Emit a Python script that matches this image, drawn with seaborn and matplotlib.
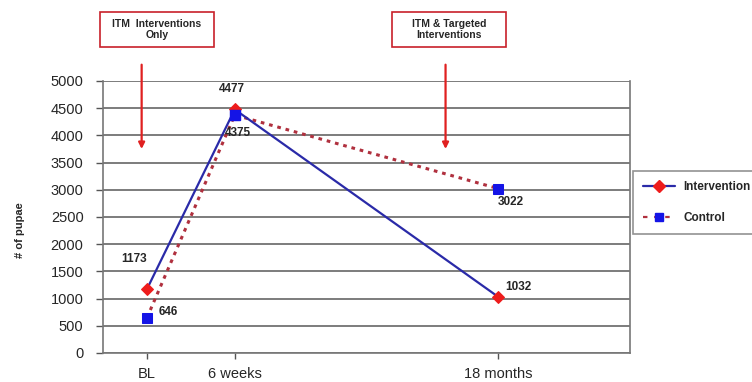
import matplotlib as mpl
import matplotlib.pyplot as plt
import pandas as pd
import seaborn as sns
from matplotlib.lines import Line2D
from matplotlib.patches import Rectangle

mpl.use('Agg')

# Data
TIMEPOINTS = ["BL", "6 weeks", "18 months"]
X_POS = [0.5, 1.5, 4.5]
INTERVENTION = [1173, 4477, 1032]
CONTROL = [646, 4375, 3022]
Y_TICKS = list(range(0, 5001, 500))

BLUE = "#2a2aa8"
RED = "#ee1c1c"
DOT_RED = "#b0303e"
SQ_BLUE = "#1414e6"

sns.set_style("white")
plt.rcParams['font.family'] = ['Liberation Sans', 'DejaVu Sans']

df = pd.DataFrame({"x": X_POS * 2,
                   "pupae": INTERVENTION + CONTROL,
                   "group": ["Intervention"] * 3 + ["Control"] * 3})

fig = plt.figure(figsize=(7.52, 3.82), dpi=100)
ax = fig.add_axes([103 / 752, 1 - 353 / 382, 527 / 752, 272 / 382])

# Lines
sns.lineplot(data=df[df["group"] == "Control"], x="x", y="pupae", ax=ax,
             color=DOT_RED, linestyle=(0, (1.2, 1.6)), linewidth=2.2,
             marker="s", markersize=6.5, markerfacecolor=SQ_BLUE,
             markeredgecolor=SQ_BLUE, zorder=3)
sns.lineplot(data=df[df["group"] == "Intervention"], x="x", y="pupae", ax=ax,
             color=BLUE, linewidth=1.6, marker="D", markersize=6,
             markerfacecolor=RED, markeredgecolor=RED, zorder=4)
ax.plot([X_POS[1]], [CONTROL[1]], marker="s", markersize=6.5, color=SQ_BLUE,
        linestyle="none", zorder=5)

# Axes styling
ax.set_xlim(0, 6)
ax.set_ylim(0, 5000)
ax.set_yticks(Y_TICKS)
ax.set_xticks(X_POS)
ax.set_xticklabels(TIMEPOINTS, fontsize=10.5)
ax.tick_params(axis="y", labelsize=10.5, length=5, width=1, color="#555555",
               pad=9, direction="out", left=True)
ax.tick_params(axis="x", length=4.3, width=1, color="#555555", pad=5.5,
               direction="out", bottom=True)
ax.set_xlabel("")
ax.set_ylabel("# of pupae", fontsize=8, fontweight="bold")
ax.yaxis.set_label_coords(-0.148, 0.45)
ax.yaxis.grid(True, color="#666666", linewidth=1.2)
ax.xaxis.grid(False)
for side in ["left", "right", "bottom"]:
    ax.spines[side].set_visible(True)
    ax.spines[side].set_color("#777777")
    ax.spines[side].set_linewidth(1.2)
ax.spines["top"].set_visible(False)

# Value labels
labels = [(0.353, 1728, "1173"), (1.469, 4853, "4477"), (1.537, 4044, "4375"),
          (0.74, 754, "646"), (4.645, 2775, "3022"), (4.725, 1213, "1032")]
for x, y, t in labels:
    ax.text(x, y, t, fontsize=8.5, fontweight="bold", ha="center", va="center",
            zorder=6)

# Intervention arrows
for xa in [0.44, 3.9]:
    ax.annotate("", xy=(xa, 3750), xytext=(xa, 5300), xycoords="data",
                annotation_clip=False,
                arrowprops=dict(arrowstyle="-|>", color="#e02020", lw=1.6,
                                mutation_scale=9, shrinkA=0, shrinkB=0))

# Boxes above the chart
for x0, x1, txt in [(100, 214, "ITM  Interventions\nOnly"),
                    (392, 506, "ITM & Targeted\nInterventions")]:
    fig.patches.append(Rectangle((x0 / 752, 1 - 47 / 382), (x1 - x0) / 752,
                                 35 / 382, transform=fig.transFigure,
                                 fill=False, edgecolor="#c8202a", linewidth=1.2))
    fig.text((x0 + x1) / 2 / 752, 1 - 29.5 / 382, txt, ha="center",
             va="center", fontsize=7.5, fontweight="bold", linespacing=1.15)

# Legend
handles = [Line2D([], [], color=BLUE, linewidth=1.6, marker="D", markersize=6.5,
                  markerfacecolor=RED, markeredgecolor=RED),
           Line2D([], [], color=DOT_RED, linewidth=1.6, linestyle=(0, (2, 3)),
                  marker="s", markersize=5.5, markerfacecolor=SQ_BLUE,
                  markeredgecolor=SQ_BLUE)]
leg = fig.legend(handles, ["Intervention", "Control"], loc="upper left",
                 bbox_to_anchor=(633 / 752, 1 - 171 / 382), borderaxespad=0,
                 frameon=True, fancybox=False, edgecolor="#777777",
                 prop={"weight": "bold", "size": 8.5}, handlelength=2.7,
                 labelspacing=1.6, borderpad=0.85, handletextpad=0.7)
leg.get_frame().set_linewidth(1.2)

fig.savefig("out.png", dpi=100)
